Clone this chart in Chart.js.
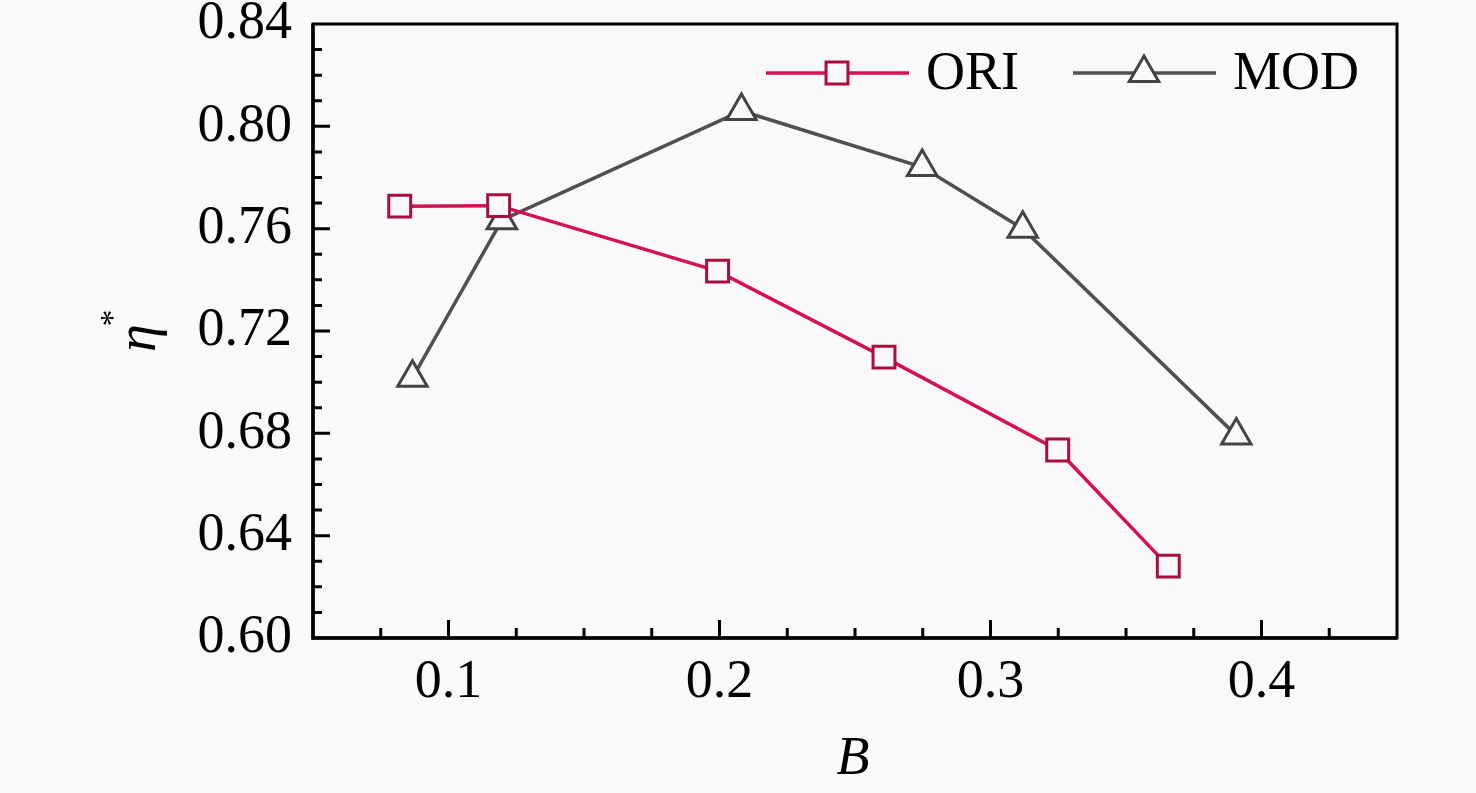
<!DOCTYPE html>
<html>
<head>
<meta charset="utf-8">
<script src="https://cdn.jsdelivr.net/npm/chart.js@4.4.1/dist/chart.umd.min.js"></script>
<style>
    html, body { margin: 0; padding: 0; background: #f9f9f9; }
    #wrap { width: 1476px; height: 793px; }
</style>
</head>
<body>
<div id="wrap"><canvas id="chart"></canvas></div>
<script>
// B values and efficiency for each design
const oriB = [0.082, 0.1185, 0.1993, 0.2607, 0.3248, 0.3656];
const oriEta = [0.7688, 0.769, 0.7434, 0.7098, 0.6735, 0.6281];
const modB = [0.0867, 0.1197, 0.2081, 0.2748, 0.3119, 0.3907];
const modEta = [0.7017, 0.7633, 0.806, 0.7841, 0.76, 0.6792];

const xTicks = [0.1, 0.2, 0.3, 0.4];
const yTicks = [0.60, 0.64, 0.68, 0.72, 0.76, 0.80, 0.84];

const FONT = "'Liberation Serif', 'Times New Roman', serif";
const BG = '#f9f9f9';

const toPoints = (xs, ys) => xs.map((x, i) => ({ x: x, y: ys[i] }));

// frame + inward ticks (major and minor)
const framePlugin = {
    id: 'frame',
    afterDraw(chart) {
        const { ctx, chartArea: a, scales } = chart;
        ctx.save();
        ctx.strokeStyle = '#000';
        ctx.lineWidth = 3;
        ctx.strokeRect(a.left, a.top, a.right - a.left, a.bottom - a.top);
        ctx.lineWidth = 3.5;
        ctx.beginPath();
        ctx.moveTo(a.left, a.top);
        ctx.lineTo(a.left, a.bottom);
        ctx.lineTo(a.right, a.bottom);
        ctx.stroke();

        ctx.lineWidth = 3;
        ctx.beginPath();
        const x = scales.x, y = scales.y;
        for (let v = 0.075; v < x.max; v += 0.025) {
            const px = x.getPixelForValue(v);
            const major = xTicks.some(t => Math.abs(t - v) < 1e-6);
            ctx.moveTo(px, a.bottom);
            ctx.lineTo(px, a.bottom - (major ? 18 : 10));
        }
        for (let v = 0.61; v < y.max - 1e-6; v += 0.01) {
            const py = y.getPixelForValue(v);
            const major = yTicks.some(t => Math.abs(t - v) < 1e-6);
            ctx.moveTo(a.left, py);
            ctx.lineTo(a.left + (major ? 17 : 9), py);
        }
        ctx.stroke();
        ctx.restore();
    }
};

// axis titles and legend drawn by hand (line + marker + label)
const labelPlugin = {
    id: 'labels',
    afterDraw(chart) {
        const { ctx, chartArea: a } = chart;
        ctx.save();
        ctx.fillStyle = '#000';

        // x title
        ctx.font = 'italic 54px ' + FONT;
        ctx.textAlign = 'center';
        ctx.textBaseline = 'middle';
        ctx.fillText('B', (a.left + a.right) / 2 - 2, 760);

        // y title: eta with superscript star
        ctx.save();
        ctx.translate(140, 338);
        ctx.rotate(-Math.PI / 2);
        ctx.font = 'italic 56px ' + FONT;
        ctx.fillText('η', 0, 0);
        ctx.font = '34px ' + FONT;
        ctx.fillText('*', 20, -26);
        ctx.restore();

        // legend
        const items = [
            { ds: chart.data.datasets[0], x0: 766 },
            { ds: chart.data.datasets[1], x0: 1073 }
        ];
        const ly = 73;
        items.forEach(it => {
            const ds = it.ds;
            ctx.strokeStyle = ds.borderColor;
            ctx.lineWidth = ds.borderWidth;
            ctx.beginPath();
            ctx.moveTo(it.x0, ly);
            ctx.lineTo(it.x0 + 143, ly);
            ctx.stroke();
            ctx.strokeStyle = ds.pointBorderColor;
            ctx.fillStyle = BG;
            ctx.lineWidth = ds.pointBorderWidth;
            Chart.helpers.drawPoint(ctx, {
                pointStyle: ds.pointStyle,
                radius: ds.pointRadius,
                rotation: 0,
                borderWidth: ds.pointBorderWidth
            }, it.x0 + 71, ly);
            ctx.fillStyle = '#000';
            ctx.font = '54px ' + FONT;
            ctx.textAlign = 'left';
            ctx.textBaseline = 'middle';
            ctx.fillText(ds.label, it.x0 + 160, ly + 2);
        });
        ctx.restore();
    }
};

const ctx = document.getElementById('chart').getContext('2d');
const chart = new Chart(ctx, {
    type: 'line',
    data: {
        datasets: [
            {
                label: 'ORI',
                data: toPoints(oriB, oriEta),
                borderColor: '#d3124f',
                borderWidth: 3.5,
                pointStyle: 'rect',
                pointRadius: 15.5,
                pointBorderColor: '#a80f3c',
                pointBorderWidth: 3,
                pointBackgroundColor: BG
            },
            {
                label: 'MOD',
                data: toPoints(modB, modEta),
                borderColor: '#505050',
                borderWidth: 3.5,
                pointStyle: 'triangle',
                pointRadius: 17,
                pointBorderColor: '#444444',
                pointBorderWidth: 3,
                pointBackgroundColor: BG
            }
        ]
    },
    options: {
        responsive: true,
        maintainAspectRatio: false,
        animation: false,
        devicePixelRatio: 1,
        layout: { padding: { top: 24, right: 79, left: 0, bottom: 0 } },
        plugins: {
            legend: { display: false },
            tooltip: { enabled: false }
        },
        scales: {
            x: {
                type: 'linear',
                min: 0.05,
                max: 0.45,
                afterBuildTicks: s => { s.ticks = xTicks.map(v => ({ value: v })); },
                afterFit: s => { s.height = 155; s.paddingLeft = 0; s.paddingRight = 0; },
                grid: { display: false, drawTicks: false },
                border: { display: false },
                ticks: {
                    color: '#000',
                    padding: 12,
                    font: { family: FONT, size: 54 },
                    callback: v => v.toFixed(1)
                }
            },
            y: {
                min: 0.6,
                max: 0.84,
                afterBuildTicks: s => { s.ticks = yTicks.map(v => ({ value: v })); },
                afterFit: s => { s.width = 313; s.paddingTop = 0; s.paddingBottom = 0; },
                grid: { display: false, drawTicks: false },
                border: { display: false },
                ticks: {
                    color: '#000',
                    padding: 21,
                    font: { family: FONT, size: 54 },
                    callback: v => v.toFixed(2)
                }
            }
        }
    },
    plugins: [framePlugin, labelPlugin]
});
</script>
</body>
</html>
